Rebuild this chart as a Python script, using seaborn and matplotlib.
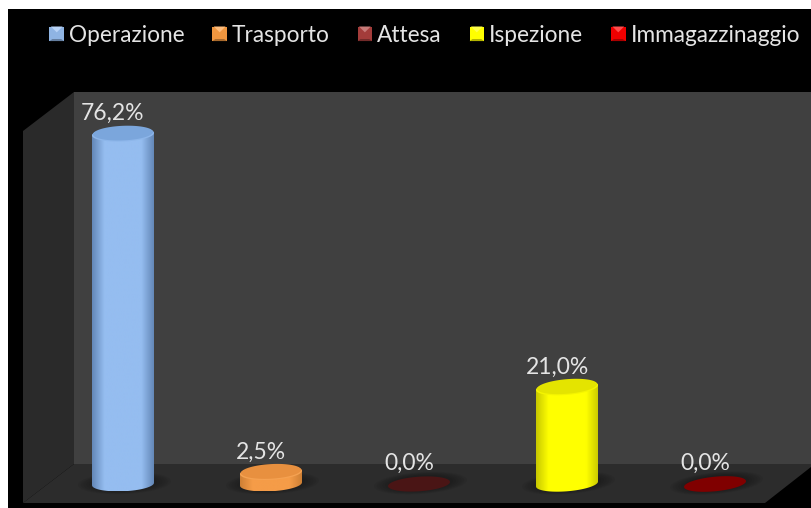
import numpy as np
import pandas as pd
import matplotlib
matplotlib.use("Agg")
import matplotlib.pyplot as plt
import seaborn as sns
from matplotlib.colors import LinearSegmentedColormap
from matplotlib.legend_handler import HandlerBase
from matplotlib.patches import Patch, Polygon, Rectangle

categories = ["Operazione", "Trasporto", "Attesa", "Ispezione", "Immagazzinaggio"]
values = [76.2, 2.5, 0.0, 21.0, 0.0]
legend_colors = ["#8fb4e3", "#f0963f", "#a33c3a", "#ffff00", "#f00000"]
edge_colors = ["#6488b8", "#cf8035", "#4a1515", "#c8c800", "#800000"]
mid_colors = ["#95bdf0", "#f59c48", "#4a1515", "#ffff00", "#800000"]
top_colors = ["#7ba6dc", "#e8903f", "#4a1515", "#e4e400", "#800000"]
rim_colors = ["#8db6ea", "#f5a252", "#4a1515", "#f4f400", "#800000"]

W, H = 811, 508
X0, DX = 123, 148      # first category centre and category spacing, px
Y0, DY = 484, 4.59     # zero line and px per percent
BAR_W = 62 / DX
B_PX = 7.3

sns.set_theme(style="white")
plt.rcParams["font.family"] = ["Lato", "DejaVu Sans"]

fig = plt.figure(figsize=(W / 100, H / 100), dpi=100, facecolor="white")

# Room: black card, two walls and the floor, in pixel coordinates
bg = fig.add_axes([0, 0, 1, 1], zorder=0)
bg.set_xlim(0, W)
bg.set_ylim(H, 0)
bg.axis("off")
bg.add_patch(Rectangle((8, 9), W - 8, H - 9, color="black", lw=0))
bg.add_patch(Polygon([(74, 92), (W, 92), (W, 464), (74, 464)], color="#404040", lw=0))
bg.add_patch(Polygon([(23, 131), (74, 92), (74, 464), (23, 503)], color="#2a2a2a", lw=0))
bg.add_patch(Polygon([(74, 464), (W, 464), (W, 467), (765, 503), (23, 503)], color="#2c2c2c", lw=0))

ax = fig.add_axes([0, 0, 1, 1], zorder=1)
ax.patch.set_alpha(0)
frame = pd.DataFrame({"categoria": categories, "quota": values})
sns.barplot(data=frame, x="categoria", y="quota", hue="categoria", palette=legend_colors,
            width=BAR_W, legend=False, ax=ax)
xlim = (-X0 / DX, (W - X0) / DX)
ylim = (-(H - Y0) / DY, Y0 / DY)
ax.set_xlim(*xlim)
ax.set_ylim(*ylim)
ax.axis("off")


def rim(cx, cy, a, shear, t, scale=1.0):
    """Points of a sheared ellipse, cx and a in category units, cy in percent."""
    dx_px = a * DX * np.cos(t) * scale
    x = cx + a * np.cos(t) * scale
    y = cy + (B_PX * scale * np.sin(t) + shear * dx_px) / DY
    return np.column_stack([x, y])


for i, bar in enumerate(list(ax.patches)):
    bar.set_visible(False)
    a = bar.get_width() / 2
    cx = bar.get_x() + a
    h = bar.get_height()
    shear = 0.04 + 0.013 * i

    # Soft contact shadow on the floor
    t = np.linspace(0, 2 * np.pi, 80)
    for s in np.linspace(1.5, 1.05, 6):
        ax.fill(*rim(cx + 0.01, 0.2, a, shear, t, s).T, color="black", alpha=0.05, lw=0, zorder=2)

    if h <= 0:
        ax.fill(*rim(cx, h, a, shear, t).T, color=mid_colors[i], lw=0, zorder=3)
    else:
        # Cylinder body with a horizontal shading band
        low = rim(cx, 0, a, shear, np.linspace(np.pi, 2 * np.pi, 50))
        high = rim(cx, h, a, shear, np.linspace(0, np.pi, 50))
        body = np.vstack([low, high])
        cmap = LinearSegmentedColormap.from_list(
            "c", [(0, edge_colors[i]), (0.2, mid_colors[i]), (0.8, mid_colors[i]), (1, edge_colors[i])])
        extent = (cx - a, cx + a, body[:, 1].min(), body[:, 1].max())
        img = ax.imshow(np.linspace(0, 1, 128)[None, :], cmap=cmap, extent=extent,
                        aspect="auto", zorder=3, interpolation="bilinear")
        clip = Polygon(body, closed=True, transform=ax.transData)
        img.set_clip_path(clip)
        # Top cap with a lighter front edge
        ax.fill(*rim(cx, h, a, shear, t).T, color=rim_colors[i], lw=0, zorder=4)
        ax.fill(*rim(cx, h + 0.25, a * 0.97, shear, t).T, color=top_colors[i], lw=0, zorder=5)
    ax.set_xlim(*xlim)
    ax.set_ylim(*ylim)

    label = f"{values[i]:.1f}%".replace(".", ",")
    ax.annotate(label, (cx, h), xytext=(-10, 20.5), textcoords="offset pixels",
                ha="center", va="center", fontsize=16.5, color="#e4e4e4", zorder=6)


class BevelSquare(HandlerBase):
    """Square key with a lighter upper bevel."""

    def create_artists(self, legend, orig, xd, yd, width, height, fontsize, trans):
        c = np.array(matplotlib.colors.to_rgb(orig.get_facecolor()))
        side = 10.5
        x0, y0 = -xd + (width - side) / 2, -yd + (height - side) / 2
        square = Rectangle((x0, y0), side, side, color=c, lw=0, transform=trans)
        upper = Polygon([(x0 + 1, y0 + side), (x0 + side - 1, y0 + side), (x0 + side / 2, y0 + side * 0.6)],
                        color=np.minimum(c * 0.75 + 0.3, 1), lw=0, transform=trans)
        lower = Polygon([(x0, y0), (x0 + side, y0), (x0 + side * 0.8, y0 + 1.5), (x0 + side * 0.2, y0 + 1.5)],
                        color=c * 0.7, lw=0, transform=trans)
        return [square, lower, upper]


handles = [Patch(facecolor=c, label=n) for c, n in zip(legend_colors, categories)]
legend = ax.legend(handles=handles, ncol=5, loc="center left",
                   bbox_to_anchor=(46 / W, 1 - 35 / H), frameon=False, fontsize=16.3,
                   labelcolor="#e4e4e4", handlelength=0.95, handleheight=0.9, handletextpad=0.07,
                   columnspacing=1.07, borderpad=0, borderaxespad=0,
                   handler_map={Patch: BevelSquare()})
legend.set_zorder(6)

fig.savefig("out.png", dpi=100, facecolor=fig.get_facecolor())
